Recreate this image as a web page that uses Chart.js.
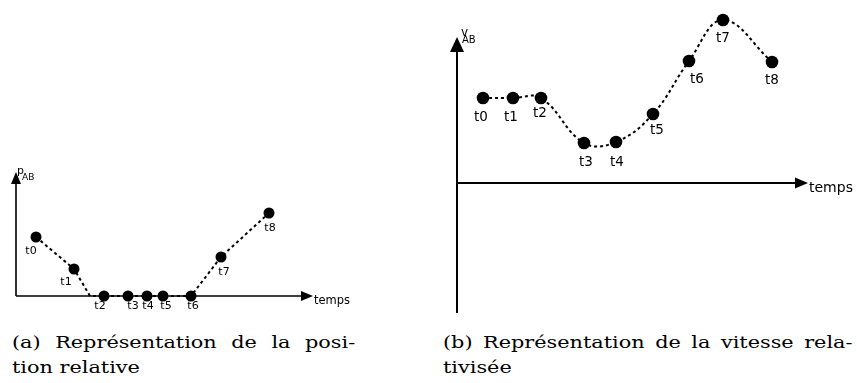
<!DOCTYPE html>
<html>
<head>
<meta charset="utf-8">
<script src="https://cdn.jsdelivr.net/npm/chart.js@4"></script>
<style>
  body { margin: 0; background: #fff; width: 857px; height: 383px; overflow: hidden; position: relative; }
  canvas { position: absolute; top: 0; }
  #posChart { left: 0; }
  #velChart { left: 430px; }
  .caption { position: absolute; font-family: "DejaVu Serif", "Liberation Serif", serif; font-size: 16px; color: #000;
             line-height: 25px; transform: scaleX(1.3); transform-origin: 0 0; }
  .caption .l1 { display: block; white-space: nowrap; text-align: justify; text-align-last: justify; }
</style>
</head>
<body>
<canvas id="posChart" width="430" height="330"></canvas>
<canvas id="velChart" width="427" height="330"></canvas>
<div class="caption" style="left:12px; top:330px; width:264px;"><span class="l1">(a) Représentation de la posi-</span>tion relative</div>
<div class="caption" style="left:443px; top:330px; width:315px;"><span class="l1">(b) Représentation de la vitesse rela-</span>tivisée</div>
<script>
// instants t0..t8
const timeLabels = ['t0', 't1', 't2', 't3', 't4', 't5', 't6', 't7', 't8'];

// (a) relative position p_AB
const posTimes = [1.0, 2.9, 4.4, 5.6, 6.55, 7.35, 8.75, 10.25, 12.65];
const posValues = [2.95, 1.35, 0, 0, 0, 0, 0, 1.95, 4.15];
// the dashed path reaches the axis a little before t2
const posBendTime = 3.7;
const posBendValue = 0;

// (b) relativised speed v_AB
const velTimes = [1.3, 2.8, 4.2, 6.35, 7.95, 9.8, 11.6, 13.3, 15.75];
const velValues = [4.25, 4.25, 4.25, 2.0, 2.05, 3.45, 6.1, 8.15, 6.05];

// label nudges (px) relative to each dot
const posLabelShift = [[-5, 14], [-8, 13], [-4, 10], [5, 10], [1, 10], [3, 10], [2, 10], [3, 15], [1, 15]];
const velLabelShift = [[-2, 19], [-2, 19], [-1, 15], [2, 19], [1, 20], [4, 16], [8, 18], [0, 18], [0, 18]];

function toPoints(xs, ys) {
    return xs.map((x, i) => ({ x: x, y: ys[i] }));
}

// draws the two arrowed axes, their names and the t-labels
const sketchAxes = {
    id: 'sketchAxes',
    afterDatasetsDraw(chart, args, o) {
        const ctx = chart.ctx;
        const xs = chart.scales.x, ys = chart.scales.y;
        const x0 = xs.getPixelForValue(0), y0 = ys.getPixelForValue(0);
        const xEnd = xs.getPixelForValue(o.xEnd);
        const yTop = ys.getPixelForValue(o.yTop);
        const yBot = ys.getPixelForValue(o.yBottom);
        ctx.save();
        ctx.strokeStyle = '#000';
        ctx.fillStyle = '#000';
        ctx.lineWidth = o.axisWidth;
        ctx.beginPath();
        ctx.moveTo(x0, yBot);
        ctx.lineTo(x0, yTop + o.yArrow[0]);
        ctx.moveTo(x0, y0);
        ctx.lineTo(xEnd - o.xArrow[0], y0);
        ctx.stroke();
        // arrow heads
        ctx.beginPath();
        ctx.moveTo(x0, yTop);
        ctx.lineTo(x0 - o.yArrow[1] / 2, yTop + o.yArrow[0]);
        ctx.lineTo(x0 + o.yArrow[1] / 2, yTop + o.yArrow[0]);
        ctx.closePath();
        ctx.fill();
        ctx.beginPath();
        ctx.moveTo(xEnd, y0);
        ctx.lineTo(xEnd - o.xArrow[0], y0 - o.xArrow[1] / 2);
        ctx.lineTo(xEnd - o.xArrow[0], y0 + o.xArrow[1] / 2);
        ctx.closePath();
        ctx.fill();

        // axis names
        ctx.textBaseline = 'middle';
        ctx.textAlign = 'left';
        ctx.font = o.timeFont + 'px "DejaVu Sans"';
        ctx.fillText('temps', xEnd + 1, y0 + o.timeDy);
        ctx.textBaseline = 'alphabetic';
        ctx.font = o.nameFont + 'px "DejaVu Sans"';
        ctx.fillText(o.name, x0 + o.nameDx, yTop + o.nameBase);
        ctx.font = o.subFont + 'px "DejaVu Sans"';
        ctx.fillText('AB', x0 + o.subDx, yTop + o.subBase);

        // t0..t8 under the dots
        const meta = chart.getDatasetMeta(1);
        ctx.textBaseline = 'middle';
        ctx.textAlign = 'center';
        ctx.font = o.labelFont + 'px "DejaVu Sans"';
        meta.data.forEach((pt, i) => {
            const s = o.shift[i];
            ctx.fillText(timeLabels[i], pt.x + s[0], pt.y + s[1]);
        });
        ctx.restore();
    }
};

function makeChart(id, path, dots, opts) {
    return new Chart(document.getElementById(id), {
        type: 'line',
        data: {
            datasets: [{
                data: path,
                borderColor: '#000',
                borderWidth: 2,
                borderDash: [3, 3],
                tension: opts.tension,
                pointRadius: 0,
                fill: false,
                clip: false
            }, {
                data: dots,
                showLine: false,
                pointRadius: opts.dot,
                pointBackgroundColor: '#000',
                pointBorderColor: '#000',
                pointBorderWidth: 0,
                clip: false
            }]
        },
        options: {
            responsive: false,
            animation: false,
            devicePixelRatio: 1,
            layout: { padding: opts.padding },
            scales: {
                x: { type: 'linear', display: false, min: opts.xMin, max: opts.xMax },
                y: { type: 'linear', display: false, min: opts.yMin, max: opts.yMax }
            },
            plugins: {
                legend: { display: false },
                tooltip: { enabled: false },
                sketchAxes: opts.axes
            }
        },
        plugins: [sketchAxes]
    });
}

document.addEventListener('DOMContentLoaded', function() {
    // (a) position: straight dashed segments
    const posPath = toPoints(posTimes, posValues);
    posPath.splice(2, 0, { x: posBendTime, y: posBendValue });
    makeChart('posChart', posPath, toPoints(posTimes, posValues), {
        tension: 0,
        dot: 5.5,
        padding: { left: 16, right: 94, top: 156, bottom: 34 },
        xMin: 0, xMax: 16, yMin: 0, yMax: 7,
        axes: {
            xEnd: 14.85, yTop: 6.2, yBottom: 0,
            axisWidth: 1.6, xArrow: [12, 10], yArrow: [12, 10],
            timeFont: 11.5, timeDy: 5,
            name: 'p', nameFont: 11, nameDx: 1, nameBase: 2,
            subFont: 9, subDx: 6, subBase: 8,
            labelFont: 11, shift: posLabelShift
        }
    });

    // (b) speed: smooth dashed curve
    makeChart('velChart', toPoints(velTimes, velValues), toPoints(velTimes, velValues), {
        tension: 0.4,
        dot: 6.3,
        padding: { left: 27, right: 30, top: 10, bottom: 17 },
        xMin: 0, xMax: 18.5, yMin: -6.5, yMax: 8.65,
        axes: {
            xEnd: 17.55, yTop: 7.3, yBottom: -6.5,
            axisWidth: 2, xArrow: [13, 11], yArrow: [15, 14],
            timeFont: 14, timeDy: 5,
            name: 'v', nameFont: 12, nameDx: 4, nameBase: -1,
            subFont: 10, subDx: 5, subBase: 6,
            labelFont: 13.5, shift: velLabelShift
        }
    });
});
</script>
</body>
</html>
